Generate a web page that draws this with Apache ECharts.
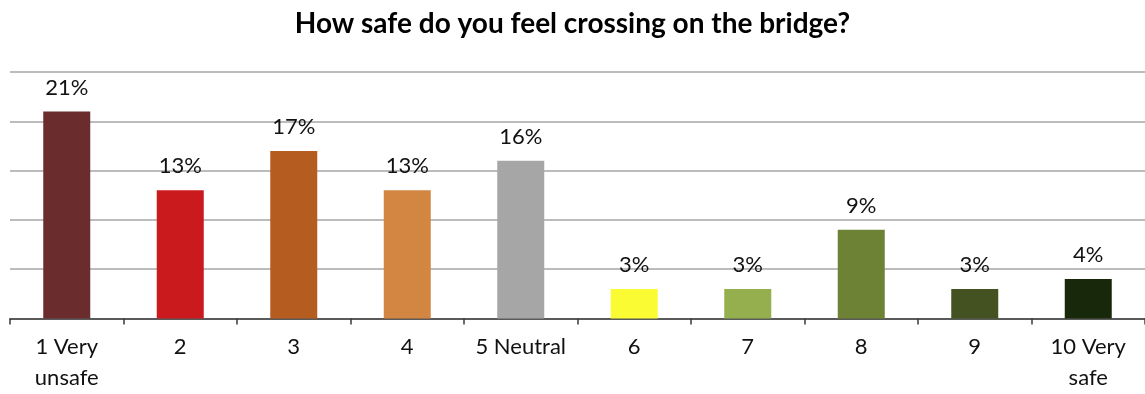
<!DOCTYPE html>
<html>
<head>
<meta charset="utf-8">
<script src="https://cdn.jsdelivr.net/npm/echarts@6/dist/echarts.min.js"></script>
<style>
  html, body { margin: 0; padding: 0; background: #fff; }
  #chart { width: 1145px; height: 394px; }
</style>
</head>
<body>
<div id="chart"></div>
<script>
// Survey answers: perceived safety on the bridge, 1 (very unsafe) to 10 (very safe)
const categories = ['1 Very\nunsafe', '2', '3', '4', '5 Neutral', '6', '7', '8', '9', '10 Very\nsafe'];
const shares = [21, 13, 17, 13, 16, 3, 3, 9, 3, 4];
const barColors = ['#6B2C2E', '#CB1A1E', '#B55D20', '#D28641', '#A6A6A6',
                   '#FBFB33', '#96AF4E', '#6E8235', '#445222', '#18290B'];

const FONT = 'Lato, "Open Sans", sans-serif';

const chart = echarts.init(document.getElementById('chart'));
chart.setOption({
  animation: false,
  title: {
    text: 'How safe do you feel crossing on the bridge?',
    left: 'center',
    top: 5,
    textStyle: { fontFamily: FONT, fontWeight: 'bold', fontSize: 28, color: '#000' }
  },
  grid: { left: 10, top: 72, width: 1137, height: 246.5, containLabel: false },
  xAxis: {
    type: 'category',
    data: categories,
    axisLine: { lineStyle: { color: '#3a3a3a', width: 1.5 } },
    axisTick: { show: true, length: 6, lineStyle: { color: '#3a3a3a', width: 1.5 } },
    axisLabel: {
      fontFamily: FONT, fontSize: 22, color: '#111',
      margin: 13, lineHeight: 31, interval: 0
    }
  },
  yAxis: {
    type: 'value',
    min: 0, max: 25, interval: 5,
    axisLine: { show: false },
    axisTick: { show: false },
    axisLabel: { show: false },
    splitLine: { lineStyle: { color: '#a6a6a6', width: 1.5 } }
  },
  series: [{
    type: 'bar',
    barWidth: 47,
    data: shares.map((v, i) => ({ value: v, itemStyle: { color: barColors[i] } })),
    label: {
      show: true,
      position: 'top',
      distance: 13,
      formatter: p => p.value + '%',
      fontFamily: FONT, fontSize: 22, color: '#111'
    }
  }]
});
</script>
</body>
</html>
